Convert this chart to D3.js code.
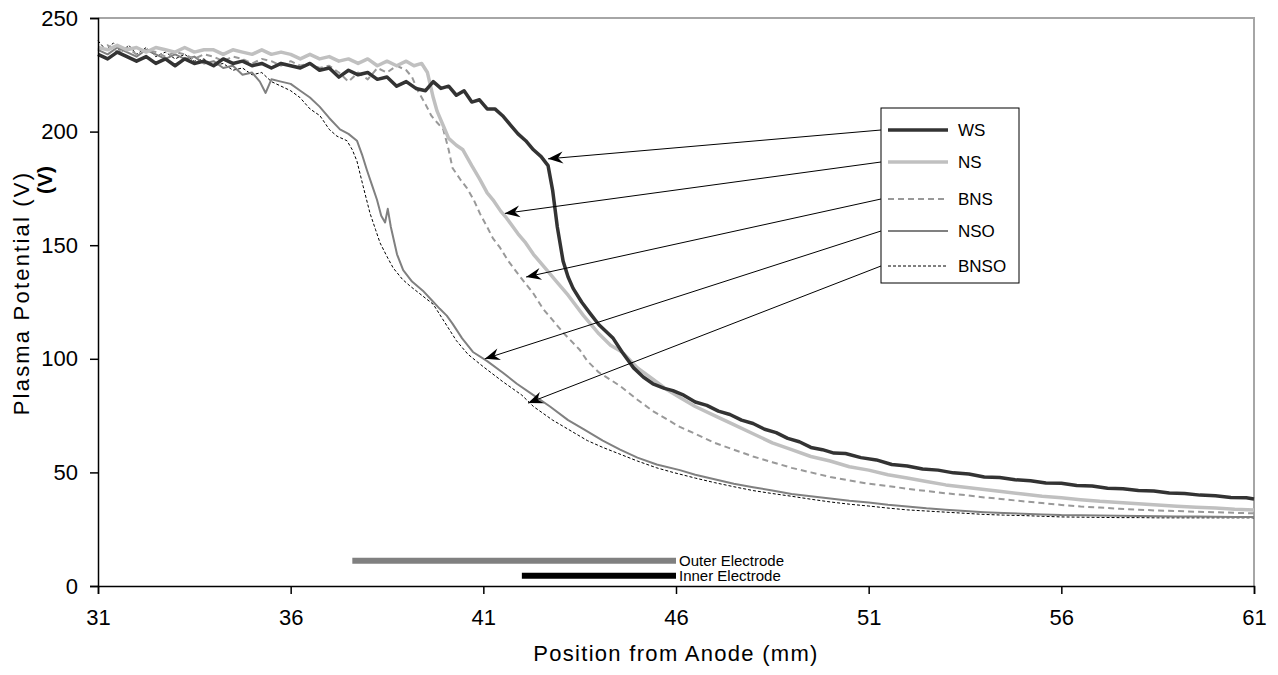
<!DOCTYPE html>
<html>
<head>
<meta charset="utf-8">
<script src="https://cdn.jsdelivr.net/npm/d3@7"></script>
<style>
  body { margin: 0; background: #fff; }
  text { font-family: Arial, "Liberation Sans", sans-serif; fill: #000; }
</style>
</head>
<body>
<div id="chart"></div>
<script>

// x = position from anode (mm), y = plasma potential (V)
var wsData = [[31,234],[31.25,232],[31.5,235],[31.75,233],[32,231],[32.25,233],[32.5,230],[32.75,232],[33,229],[33.25,232],[33.5,230],[33.75,231],[34,229],[34.25,232],[34.5,230],[34.75,231],[35,229],[35.25,230],[35.5,228],[35.75,230],[36,229],[36.25,228],[36.5,230],[36.75,227],[37,228],[37.25,224],[37.5,227],[37.75,225],[38,226],[38.25,223],[38.5,224],[38.75,220],[39,222],[39.25,219],[39.5,218],[39.7,222],[39.9,219],[40.1,220],[40.3,216],[40.5,218],[40.7,213],[40.9,214],[41.1,210],[41.3,210],[41.5,207],[41.7,203],[41.9,199],[42.1,196],[42.3,192],[42.5,189],[42.68,185],[42.8,174],[42.92,158],[43.07,143],[43.2,136],[43.33,131],[43.55,125],[43.77,120],[44,115],[44.37,109],[44.6,103],[44.9,96],[45.15,92],[45.4,89],[45.7,87],[45.92,86],[46.2,84],[46.5,81],[46.8,79.5],[47.1,77],[47.4,75.5],[47.7,73],[48,71.5],[48.3,69],[48.6,67.5],[48.9,65],[49.2,63.5],[49.5,61],[49.8,60],[50.1,58.5],[50.4,58.3],[50.8,56.5],[51.2,55.5],[51.6,53.5],[52,52.8],[52.4,51.5],[52.8,51],[53.2,49.8],[53.6,49.3],[54,48],[54.4,47.8],[54.8,46.8],[55.2,46.3],[55.6,45.3],[56,45.2],[56.4,44.2],[56.8,44],[57.2,43],[57.6,42.8],[58,42],[58.4,41.8],[58.8,40.9],[59.2,40.7],[59.6,40],[60,39.7],[60.4,39],[60.8,38.8],[61,38.3]];

var nsData = [[31,237],[31.25,236],[31.5,238],[31.75,236],[32,237],[32.25,235],[32.5,237],[32.75,236],[33,235],[33.25,237],[33.5,235],[33.75,236],[34,236],[34.25,234],[34.5,236],[34.75,235],[35,234],[35.25,236],[35.5,234],[35.75,235],[36,234],[36.25,232],[36.5,234],[36.75,232],[37,233],[37.25,231],[37.5,232],[37.75,230],[38,232],[38.25,229],[38.5,231],[38.75,229],[39,231],[39.2,229],[39.4,230],[39.55,226],[39.7,215],[39.8,209],[39.95,203],[40.1,197],[40.3,194],[40.47,192],[40.7,185],[40.91,179],[41.1,173],[41.25,170],[41.45,165],[41.6,162],[41.9,155],[42.1,151],[42.3,146],[42.6,140],[42.9,134],[43.2,128],[43.6,119],[44,111],[44.3,106],[44.6,103],[45,96],[45.4,91],[45.8,86],[46.1,83],[46.5,79],[47,75],[47.5,71],[48,67],[48.5,63],[49,60],[49.5,57],[50,55],[50.5,52.5],[51,51],[51.5,49],[52,47.5],[52.5,46],[53,44.5],[53.5,43.5],[54,42.5],[54.5,41.5],[55,40.5],[55.5,39.5],[56,38.8],[56.5,38],[57,37.3],[57.5,36.8],[58,36.2],[58.5,35.6],[59,35.1],[59.5,34.7],[60,34.3],[60.5,33.8],[61,33.5]];

var bnsData = [[31,236],[31.25,238],[31.5,235],[31.75,237],[32,234],[32.25,236],[32.5,235],[32.75,233],[33,235],[33.25,234],[33.5,232],[33.75,234],[34,233],[34.25,231],[34.5,233],[34.75,232],[35,230],[35.25,232],[35.5,231],[35.75,229],[36,231],[36.25,229],[36.5,230],[36.75,228],[37,229],[37.25,226],[37.5,222],[37.75,226],[38,223],[38.25,228],[38.5,226],[38.75,229],[39,227],[39.15,224],[39.3,218],[39.5,212],[39.65,207],[39.8,204],[39.96,201],[40.1,192],[40.2,184],[40.4,179],[40.58,175],[40.75,170],[40.91,164],[41.1,158],[41.25,153],[41.43,149],[41.65,143],[41.87,138],[42.1,133],[42.29,129],[42.55,122],[42.8,117],[43.1,111],[43.5,104],[43.7,99],[44,94],[44.37,90],[44.55,88],[45,82],[45.4,77],[45.8,73],[46.1,70],[46.5,67],[47,63],[47.5,60],[48,57],[48.5,54.5],[49,52],[49.5,50],[50,48],[50.5,46.5],[51,45],[51.5,44],[52,42.8],[52.5,41.8],[53,40.8],[53.5,40],[54,39],[54.5,38.2],[55,37.3],[55.5,36.5],[56,35.7],[56.5,35],[57,34.5],[57.5,34],[58,33.6],[58.5,33.2],[59,33],[59.5,32.7],[60,32.5],[60.5,32.2],[61,32]];

var nsoData = [[31,236],[31.25,234],[31.5,237],[31.75,235],[32,233],[32.25,236],[32.5,234],[32.75,232],[33,234],[33.25,232],[33.5,233],[33.75,230],[34,231],[34.25,228],[34.5,229],[34.75,225],[35,226],[35.2,222],[35.35,217],[35.5,223],[35.75,222],[36,221],[36.25,218],[36.5,215],[36.75,211],[37,206],[37.28,201],[37.5,199],[37.72,196],[37.85,190],[37.98,183],[38.1,177],[38.24,170],[38.35,163],[38.45,160],[38.52,166],[38.6,158],[38.76,146],[38.92,139],[39.15,134],[39.43,130],[39.65,126],[39.87,122],[40.05,119],[40.2,115.5],[40.45,109],[40.73,103],[41.1,99],[41.5,94],[41.87,89],[42.3,84],[42.73,79],[43.2,73],[43.6,69],[44.1,64],[44.55,60],[45,56.5],[45.5,53.5],[46.1,51],[46.5,49],[47,47],[47.5,45],[48,43.5],[48.5,42],[49,40.5],[49.5,39.5],[50,38.5],[50.5,37.5],[51,36.8],[51.5,35.8],[52,35],[52.5,34.2],[53,33.6],[53.5,33],[54,32.5],[54.5,32.1],[55,31.8],[55.5,31.5],[56,31.2],[56.5,31.1],[57,31],[57.5,30.9],[58,30.8],[58.5,30.7],[59,30.6],[59.5,30.6],[60,30.5],[60.5,30.4],[61,30.4]];

var bnsoData = [[31,240],[31.2,236],[31.4,239],[31.6,235],[31.8,238],[32,234],[32.25,237],[32.5,233],[32.75,235],[33,232],[33.25,234],[33.5,231],[33.75,232],[34,229],[34.25,230],[34.5,227],[34.75,228],[35,225],[35.25,226],[35.5,222],[35.75,220],[36,218],[36.24,215],[36.5,210],[36.76,207],[37,201],[37.2,198],[37.46,196],[37.6,192],[37.72,187],[37.88,176],[38.06,164],[38.2,157],[38.32,151],[38.5,145],[38.66,140],[38.9,135],[39.1,132],[39.4,128],[39.7,124],[40,116],[40.3,108],[40.6,102],[41,96.5],[41.5,90],[42,84],[42.3,79],[42.8,73],[43.3,68],[43.7,64],[44.1,61],[44.55,58],[45,55],[45.5,52],[45.92,50],[46.5,47.5],[47,45.5],[47.5,43.7],[48,42],[48.5,40.7],[49,39.5],[49.5,38.2],[50,37],[50.5,36],[51,35.2],[51.5,34.3],[52,33.5],[52.5,33],[53,32.5],[53.5,32],[54,31.5],[54.5,31.2],[55,31],[55.5,30.7],[56,30.4],[56.5,30.3],[57,30.2],[57.5,30.1],[58,30.1],[58.5,30],[59,30],[59.5,30],[60,30],[60.5,30],[61,30]];

var seriesNames = ["WS", "NS", "BNS", "NSO", "BNSO"];
// where each legend arrow points on its curve (mm, V)
var arrowTargets = [[42.68, 188], [41.56, 164], [42.11, 136], [41.04, 100], [42.16, 80.5]];

// electrode extents (mm) and the height they are drawn at (V)
var electrodeNames = ["Outer Electrode", "Inner Electrode"];
var electrodeStart = [37.6, 42.0];
var electrodeEnd = [46, 46];
var electrodeLevel = [11.1, 4.5];

var xTicks = [31, 36, 41, 46, 51, 56, 61];
var yTicks = [0, 50, 100, 150, 200, 250];

var width = 1278,
    height = 675,
    margin = {top: 18, right: 24, bottom: 89, left: 98};

var styles = [
    {color: "#333333", width: 3.5, dash: null},
    {color: "#c0c0c0", width: 3.5, dash: null},
    {color: "#999999", width: 2, dash: "6,4"},
    {color: "#808080", width: 2, dash: null},
    {color: "#000000", width: 1, dash: "3,2"}
];

var svg = d3.select("#chart").append("svg")
    .attr("width", width)
    .attr("height", height);

var x = d3.scaleLinear().domain([31, 61]).range([margin.left, width - margin.right]);
var y = d3.scaleLinear().domain([0, 250]).range([height - margin.bottom, margin.top]);

// arrow head like excel's stealth arrow
svg.append("defs").append("marker")
    .attr("id", "arrow")
    .attr("markerUnits", "userSpaceOnUse")
    .attr("viewBox", "-16 -7 18 14")
    .attr("refX", 0)
    .attr("refY", 0)
    .attr("markerWidth", 18)
    .attr("markerHeight", 14)
    .attr("orient", "auto")
    .append("path")
    .attr("d", "M0,0 L-15,-6 L-10,0 L-15,6 Z")
    .attr("fill", "#000");

// top and right frame
svg.append("path")
    .attr("d", "M" + x(31) + "," + y(250) + "H" + x(61) + "V" + y(0))
    .attr("fill", "none")
    .attr("stroke", "#a6a6a6")
    .attr("stroke-width", 2);

var line = d3.line()
    .x(function (d) { return x(d[0]); })
    .y(function (d) { return y(d[1]); });

var allData = [wsData, nsData, bnsData, nsoData, bnsoData];

// draw back to front so WS ends on top
[4, 3, 2, 1, 0].forEach(function (i) {
    svg.append("path")
        .datum(allData[i])
        .attr("d", line)
        .attr("fill", "none")
        .attr("stroke", styles[i].color)
        .attr("stroke-width", styles[i].width)
        .attr("stroke-dasharray", styles[i].dash)
        .attr("stroke-linejoin", "round");
});

// electrodes
electrodeNames.forEach(function (name, i) {
    svg.append("line")
        .attr("x1", x(electrodeStart[i]))
        .attr("x2", x(electrodeEnd[i]))
        .attr("y1", y(electrodeLevel[i]))
        .attr("y2", y(electrodeLevel[i]))
        .attr("stroke", i === 0 ? "#808080" : "#000")
        .attr("stroke-width", 6);
    svg.append("text")
        .attr("x", x(electrodeEnd[i]) + 3)
        .attr("y", y(electrodeLevel[i]))
        .attr("dy", "0.36em")
        .style("font-size", "15px")
        .text(name);
});

// axes
var xAxis = svg.append("g")
    .attr("transform", "translate(0," + y(0) + ")")
    .call(d3.axisBottom(x).tickValues(xTicks).tickSize(8).tickPadding(15).tickFormat(d3.format("d")));
var yAxis = svg.append("g")
    .attr("transform", "translate(" + x(31) + ",0)")
    .call(d3.axisLeft(y).tickValues(yTicks).tickSize(8).tickPadding(12));

[xAxis, yAxis].forEach(function (a) {
    a.select(".domain").attr("stroke", "#000").attr("stroke-width", 1.5);
    a.selectAll(".tick line").attr("stroke", "#000").attr("stroke-width", 1.5);
    a.selectAll(".tick text").style("font-size", "22px").style("font-family", "Arial, 'Liberation Sans', sans-serif").attr("fill", "#000");
});

svg.append("text")
    .attr("x", (x(31) + x(61)) / 2)
    .attr("y", 661)
    .attr("text-anchor", "middle")
    .style("font-size", "22px")
    .style("letter-spacing", "1.3px")
    .text("Position from Anode (mm)");

svg.append("text")
    .attr("transform", "translate(29,293) rotate(-90)")
    .attr("text-anchor", "middle")
    .style("font-size", "22px")
    .style("letter-spacing", "2.2px")
    .text("Plasma Potential (V)");

svg.append("text")
    .attr("transform", "translate(52,180) rotate(-90)")
    .attr("text-anchor", "middle")
    .style("font-size", "21px")
    .style("font-weight", "bold")
    .text("(V)");

// legend box
var legend = {x: 881, y: 108, w: 138, h: 175};
var rowY = [130, 162, 199, 231, 266];

svg.append("rect")
    .attr("x", legend.x)
    .attr("y", legend.y)
    .attr("width", legend.w)
    .attr("height", legend.h)
    .attr("fill", "#fff")
    .attr("stroke", "#000")
    .attr("stroke-width", 1);

seriesNames.forEach(function (name, i) {
    svg.append("line")
        .attr("x1", legend.x + 7)
        .attr("x2", legend.x + 67)
        .attr("y1", rowY[i])
        .attr("y2", rowY[i])
        .attr("stroke", styles[i].color)
        .attr("stroke-width", styles[i].width)
        .attr("stroke-dasharray", styles[i].dash);
    svg.append("text")
        .attr("x", legend.x + 77)
        .attr("y", rowY[i])
        .attr("dy", "0.36em")
        .style("font-size", "17px")
        .text(name);

    // pointer from the legend to its curve
    svg.append("line")
        .attr("x1", legend.x)
        .attr("y1", rowY[i])
        .attr("x2", x(arrowTargets[i][0]))
        .attr("y2", y(arrowTargets[i][1]))
        .attr("stroke", "#000")
        .attr("stroke-width", 1)
        .attr("marker-end", "url(#arrow)");
});

</script>
</body>
</html>
